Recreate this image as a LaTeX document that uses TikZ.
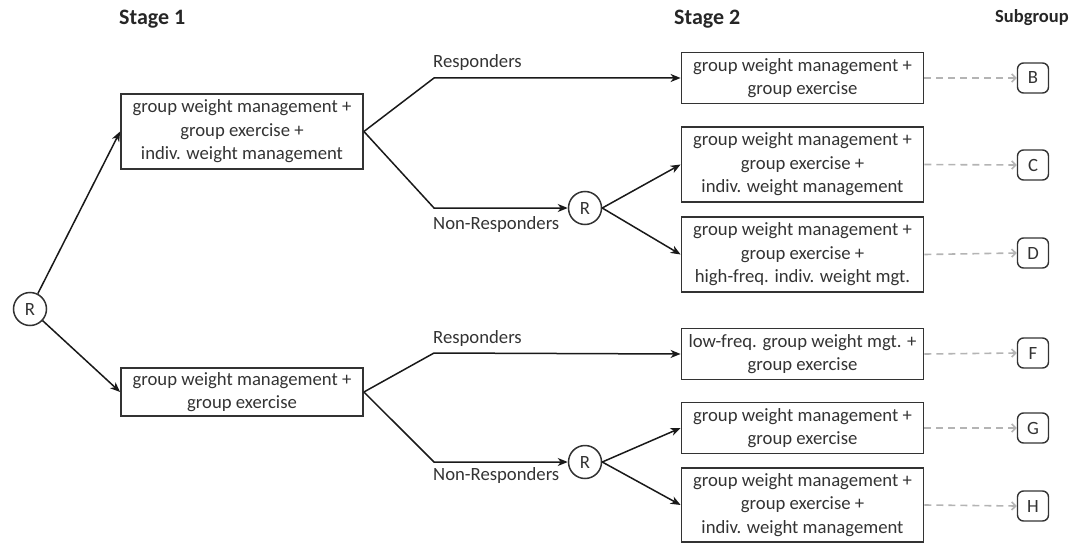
\documentclass[tikz,border=0pt]{standalone}
\usepackage{fontspec}
\setmainfont{Carlito}
\usetikzlibrary{arrows.meta}

\definecolor{ink}{HTML}{333333}
\definecolor{dashgray}{HTML}{B4B4B4}

\begin{document}
\begin{tikzpicture}[
  x=1pt, y=-1pt,
  every node/.style={font=\fontsize{18.7}{23.5}\selectfont, text=ink},
  armbox/.style={draw=ink, line width=1.8pt, rectangle, align=center,
                 minimum width=242pt, inner sep=0pt},
  twoline/.style={armbox, minimum height=51pt},
  threeline/.style={armbox, minimum height=75pt},
  randnode/.style={draw=ink, line width=1.5pt, circle, minimum size=33pt, inner sep=0pt},
  subbox/.style={draw=ink, line width=1.4pt, rounded corners=6pt,
                 minimum width=31pt, minimum height=30pt, inner sep=0pt},
  header/.style={font=\fontsize{22}{26}\bfseries\selectfont, text=black!85, inner sep=0pt, anchor=base west},
  subheader/.style={font=\fontsize{18.5}{22}\bfseries\selectfont, text=black!85, inner sep=0pt, anchor=base west},
  branchlbl/.style={inner sep=0pt, anchor=base west},
  flow/.style={draw=black!90, line width=1.5pt, -{Stealth[length=10pt,width=8pt,inset=3pt]}},
  tosub/.style={draw=dashgray, line width=1.6pt, dash pattern=on 7pt off 5pt,
                -{Straight Barb[length=4pt,width=8pt]}},
]
\useasboundingbox (0,0) rectangle (1071,543);

% column headings
\node[header] (hd1) at (119,25) {Stage 1};
\node[header] (hd2) at (674,25) {Stage 2};
\node[subheader] (hd3) at (995,23) {Subgroup};

% first randomisation
\node[randnode] (r0) at (30,309) {R};

% stage 1 arms
\node[threeline] (s1a) at (242,131.5) {group weight management +\\group exercise +\\indiv. weight management};
\node[twoline, minimum height=48pt] (s1b) at (242,392) {group weight management +\\group exercise};

% stage 2 arms
\node[twoline] (b) at (802.5,78) {group weight management +\\group exercise};
\node[threeline] (c) at (802.5,164.5) {group weight management +\\group exercise +\\indiv. weight management};
\node[threeline] (d) at (802.5,254.5) {group weight management +\\group exercise +\\high-freq. indiv. weight mgt.};
\node[twoline] (f) at (802.5,354) {low-freq. group weight mgt. +\\group exercise};
\node[twoline] (g) at (802.5,428) {group weight management +\\group exercise};
\node[threeline, minimum height=74pt] (h) at (802.5,505) {group weight management +\\group exercise +\\indiv. weight management};

% re-randomisation of non-responders
\node[randnode] (r1) at (585,208) {R};
\node[randnode] (r2) at (585,462) {R};

% subgroups
\node[subbox] (gb) at (1033,78) {B};
\node[subbox] (gc) at (1033,165) {C};
\node[subbox] (gd) at (1033,253) {D};
\node[subbox] (gf) at (1033,353) {F};
\node[subbox] (gg) at (1033,428) {G};
\node[subbox] (gh) at (1033,506) {H};

% branch corners
\coordinate (ka) at (434,78);
\coordinate (kb) at (434,208);
\coordinate (kc) at (434,353);
\coordinate (kd) at (434,462);

% branch labels
\node[branchlbl] (la) at (433,68) {Responders};
\node[branchlbl] (lb) at (433,229) {Non-Responders};
\node[branchlbl] (lc) at (433,343) {Responders};
\node[branchlbl] (ld) at (433,480) {Non-Responders};

% connectors
\draw[flow] (r0) -- (s1a.west);
\draw[flow] (r0) -- (s1b.west);

\draw[flow] (s1a.east) -- (ka) -- (b.west);
\draw[flow] (s1a.east) -- (kb) -- (r1.west);
\draw[flow] (r1.east) -- (c.west);
\draw[flow] (r1.east) -- (d.west);

\draw[flow] (s1b.east) -- (kc) -- (f.west);
\draw[flow] (s1b.east) -- (kd) -- (r2.west);
\draw[flow] (r2.east) -- (g.west);
\draw[flow] (r2.east) -- (h.west);

\draw[tosub] (b.east) -- (gb.west);
\draw[tosub] (c.east) -- (gc.west);
\draw[tosub] (d.east) -- (gd.west);
\draw[tosub] (f.east) -- (gf.west);
\draw[tosub] (g.east) -- (gg.west);
\draw[tosub] (h.east) -- (gh.west);
\end{tikzpicture}
\end{document}
